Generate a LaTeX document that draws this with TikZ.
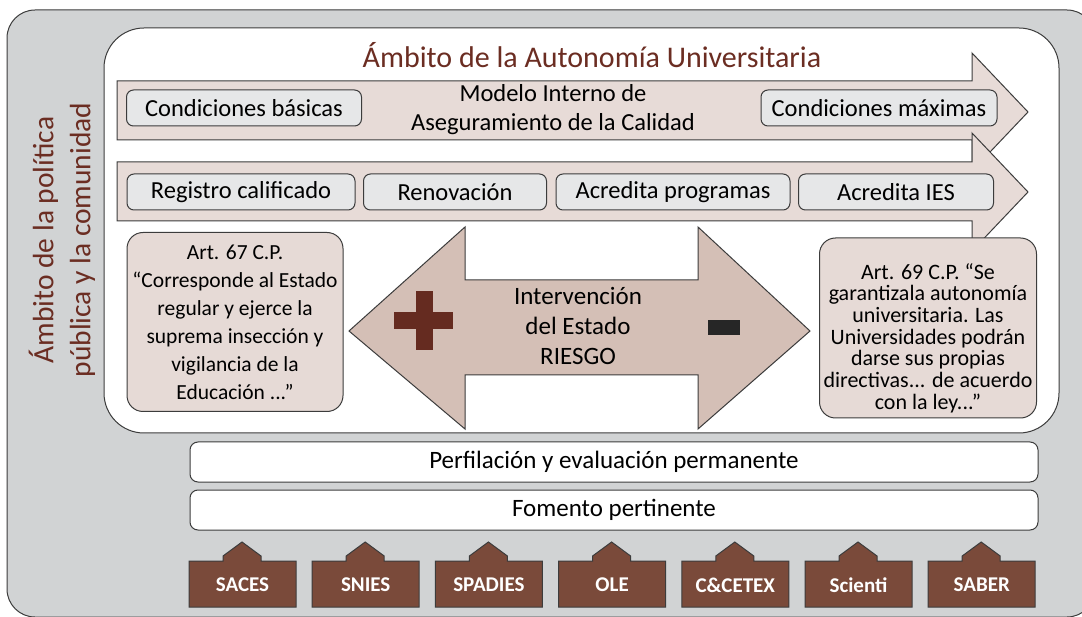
\documentclass[tikz,border=0pt]{standalone}
\usepackage{fontspec}
\setmainfont{Carlito}
\usepackage{xcolor}
\definecolor{gris}{HTML}{D1D3D4}
\definecolor{borde}{HTML}{3C3C3C}
\definecolor{vino}{HTML}{6B2D22}
\definecolor{banda}{HTML}{E7DBD7}
\definecolor{cajita}{HTML}{E6E7E8}
\definecolor{flecha}{HTML}{D4BFB6}
\definecolor{nota}{HTML}{E6DAD6}
\definecolor{cafe}{HTML}{7A4A3A}
\definecolor{cruz}{HTML}{652B20}

\begin{document}
\begin{tikzpicture}[x=1pt,y=-1pt]
        \tikzstyle{caja}=[draw=borde,line width=1pt,fill=cajita,rounded corners=7pt,minimum height=36pt,inner sep=0pt,font=\fontsize{24.5}{28}\selectfont]
        \tikzstyle{nota}=[draw=borde,line width=1pt,fill=nota,rounded corners=16pt,minimum width=216pt,minimum height=179pt,inner sep=0pt,align=center]
        \tikzstyle{barra}=[draw=borde,line width=1pt,fill=white,rounded corners=8pt,minimum width=848pt,minimum height=40pt,inner sep=0pt,font=\fontsize{25}{28}\selectfont]
        \tikzstyle{etiqueta}=[text=white,font=\fontsize{21}{24}\selectfont\bfseries]

        \clip (0,0) rectangle (1082,617);

        % fondos
        \draw [fill=gris,draw=borde,line width=1pt,rounded corners=28pt] (7,10) rectangle (1095,617);
        \draw [fill=white,draw=borde,line width=1pt,rounded corners=40pt] (104,28) rectangle (1059,433);

        \draw node at (62,240) [rotate=90,align=center,text=vino,font=\fontsize{29.5}{37}\selectfont] (politica) {Ámbito de la política\\pública y la comunidad};
        \draw node at (592,55) [text=vino,font=\fontsize{30}{33}\selectfont] (titulo) {Ámbito de la Autonomía Universitaria};

        % flechas de calidad
        \draw [fill=banda,draw=borde,line width=1pt] (117,81) -- (972,81) -- (972,53) -- (1028,112) -- (972,171) -- (972,140) -- (117,140) -- cycle;
        \draw [fill=banda,draw=borde,line width=1pt] (117,162) -- (972,162) -- (972,133) -- (1028,192) -- (972,251) -- (972,221) -- (117,221) -- cycle;

        \draw node at (244,108) [caja,minimum width=235pt] (basicas) {Condiciones básicas};
        \draw node at (879,108) [caja,minimum width=236pt] (maximas) {Condiciones máximas};
        \draw node at (553,110) [align=center,font=\fontsize{24.5}{29}\selectfont] (modelo) {Modelo Interno de\\Aseguramiento de la Calidad};

        \draw node at (241,192) [caja,minimum width=228pt] (registro) {Registro calificado};
        \draw node at (455,192) [caja,minimum width=183pt] (renovacion) {Renovación};
        \draw node at (673,192) [caja,minimum width=234pt] (programas) {Acredita programas};
        \draw node at (896,192) [caja,minimum width=195pt] (ies) {Acredita IES};

        % intervencion del estado
        \draw [fill=flecha,draw=borde,line width=1pt] (349,331) -- (465,227) -- (465,280) -- (698,280) -- (698,227) -- (810,331) -- (698,429) -- (698,375) -- (465,375) -- (465,429) -- cycle;
        \fill [cruz] (394,312) rectangle (453,329);
        \fill [cruz] (416,291) rectangle (433,350);
        \fill [black!85] (708,320) rectangle (740,335);
        \draw node at (578,326) [align=center,font=\fontsize{25}{30}\selectfont] (riesgo) {Intervención\\del Estado\\RIESGO};

        \draw node at (235,322) [nota,font=\fontsize{21.5}{28}\selectfont] (art67) {Art. 67 C.P.\\“Corresponde al Estado\\regular y ejerce la\\suprema insección y\\vigilancia de la\\Educación ...”};
        \draw node at (928,328) [nota,minimum width=217pt,minimum height=180pt] (art69) {};
        \draw node at (928,338) [align=center,inner sep=0pt,font=\fontsize{22}{21.7}\selectfont] (art69texto) {Art. 69 C.P. “Se\\garantizala autonomía\\universitaria. Las\\Universidades podrán\\darse sus propias\\directivas... de acuerdo\\con la ley...”};

        % barras inferiores
        \draw node at (614,462) [barra] (perfilacion) {Perfilación y evaluación permanente};
        \draw node at (614,510) [barra] (fomento) {Fomento pertinente};

        \foreach \nombre [count=\i from 0] in {SACES,SNIES,SPADIES,OLE,C\&CETEX,Scienti,SABER} {
            \pgfmathsetmacro{\xa}{189+123.2*\i}
            \draw [fill=cafe,draw=borde,line width=1pt] (\xa,607) -- (\xa,561) -- (\xa+34,561) -- (\xa+34,556) -- (\xa+53,542) -- (\xa+72,556) -- (\xa+72,561) -- (\xa+107,561) -- (\xa+107,607) -- cycle;
            \draw node at (\xa+53.5,585) [etiqueta] (tag\i) {\nombre};
        }
    \end{tikzpicture}
\end{document}
